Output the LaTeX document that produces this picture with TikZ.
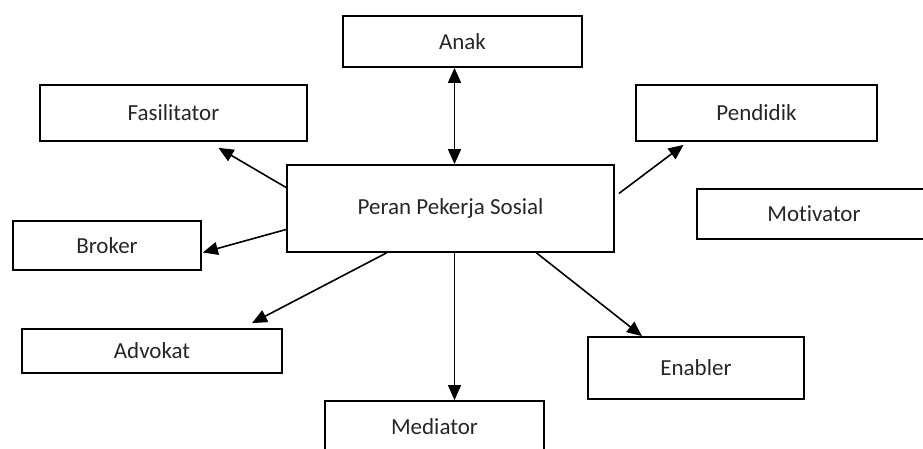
\documentclass[tikz,border=0pt]{standalone}
\usepackage{fontspec}
\setmainfont{Carlito}[RawFeature=-liga]
\usetikzlibrary{calc,arrows.meta}
\tikzset{
  role/.style={ % image of one role of the social worker
    draw, rectangle, line width=1.8pt, text=black!85,
    inner sep=0pt, font=\fontsize{23}{27}\selectfont
  },
  link/.style={ % arrow from the centre box to a role
    line width=1.6pt, -{Triangle[length=15pt,width=13pt]}
  }
}
\begin{document}
\begin{tikzpicture}[x=1pt, y=1pt]
      \useasboundingbox (0,0) rectangle (923,448);
      \clip (0,0) rectangle (923,448);

      \node[role, minimum width=327pt, minimum height=87pt] (peran) at (450.5,239.5) {Peran Pekerja Sosial};
      \node[role, minimum width=239pt, minimum height=51pt] (anak) at (462.5,406.5) {Anak};
      \node[role, minimum width=267pt, minimum height=56pt] (fasil) at (173.5,335) {Fasilitator};
      \node[role, minimum width=241pt, minimum height=56pt] (pendidik) at (756.5,335) {Pendidik};
      \node[role, minimum width=188pt, minimum height=49pt] (broker) at (107,202.5) {Broker};
      \node[role, minimum width=234pt, minimum height=50pt] (motivator) at (814,234) {Motivator};
      \node[role, minimum width=260pt, minimum height=44pt] (advokat) at (152,97) {Advokat};
      \node[role, minimum width=216pt, minimum height=62pt] (enabler) at (696,80) {Enabler};
      \node[role, minimum width=219pt, minimum height=52pt] (mediator) at (434.5,21) {Mediator};

      \draw[link, {Triangle[length=15pt,width=13pt]}-{Triangle[length=15pt,width=13pt]}]
        ([xshift=4pt]peran.north) -- ([xshift=4pt]peran.north |- anak.south);
      \draw[link] ([yshift=21pt]peran.west) -- ([xshift=45pt,yshift=-6pt]fasil.south);
      \draw[link] ([yshift=-21pt]peran.west) -- ([xshift=1pt,yshift=-7pt]broker.east);
      \draw[link] ([xshift=-64pt]peran.south) -- ([xshift=100pt,yshift=5pt]advokat.north);
      \draw[link] ([xshift=4pt]peran.south) -- ([xshift=4pt]peran.south |- mediator.north);
      \draw[link] ([xshift=86pt]peran.south) -- ([xshift=-54pt]enabler.north);
      \draw[link] ([xshift=4pt,yshift=15pt]peran.east) -- ([xshift=-73pt,yshift=-3pt]pendidik.south);
    \end{tikzpicture}
\end{document}
